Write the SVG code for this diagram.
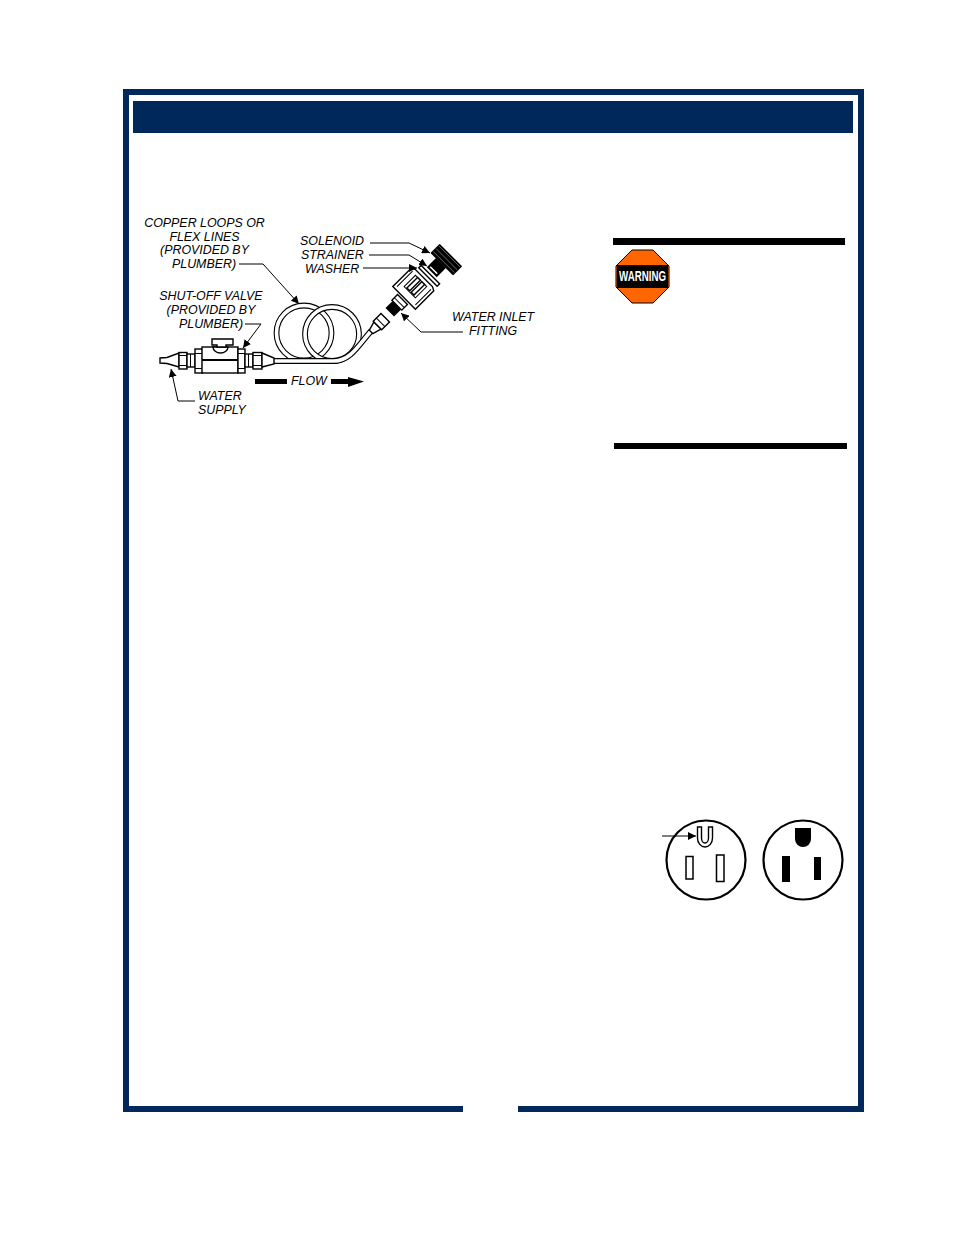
<svg xmlns="http://www.w3.org/2000/svg" width="954" height="1235" viewBox="0 0 954 1235">
<style>
.l{font-family:"Liberation Sans",Arial,sans-serif;font-style:italic;font-size:12.4px;fill:#000}
.m{text-anchor:middle}
.p{fill:#fff;stroke:#000;stroke-width:1.4}
.b{fill:#000;stroke:none}
.t{fill:none;stroke:#000;stroke-width:5.8}
.w{fill:none;stroke:#fff;stroke-width:3.6}
.ld{fill:none;stroke:#000;stroke-width:1;marker-end:url(#a)}
.o{fill:#fff;stroke:#000;stroke-width:2.2}
</style>
<defs>
<marker id="a" markerUnits="userSpaceOnUse" markerWidth="10" markerHeight="8" refX="8" refY="4" orient="auto"><path d="M0 0L8 4L0 8Z" fill="#000"/></marker>
</defs>
<rect width="954" height="1235" fill="#fff"/>
<g id="frame">
<path d="M463 1109H126V92H861V1109H518" fill="none" stroke="#00285a" stroke-width="6"/>
<rect x="133" y="101" width="720" height="32" fill="#00285a"/>
</g>
<g id="copper-loops">
<circle class="t" cx="304" cy="333" r="27.500"/><circle class="w" cx="304" cy="333" r="27.500"/>
<circle class="t" cx="332" cy="334" r="27"/><circle class="w" cx="332" cy="334" r="27"/>
<path class="t" d="M272 361H334C350 361 358 346 371 331"/>
<path class="w" d="M272 361H334C350 361 358 346 371 331"/>
</g>
<g id="shut-off-valve">
<path class="p" d="M160 358L167 357.500L179 353V367L167 363.500L160 363Z"/>
<rect class="p" x="179" y="352.500" width="8" height="16.500"/><path class="b" d="M179 355h8v1h-8zM179 365h8v1h-8z"/>
<rect class="p" x="187" y="354" width="8" height="13"/><rect class="b" x="190" y="354" width="1" height="13"/>
<rect class="p" x="195" y="349" width="7.500" height="24"/><path class="b" d="M195 353h7v1h-7zM195 368h7v1h-7z"/>
<rect x="202" y="347" width="36" height="26" fill="#fff" stroke="#000" stroke-width="1.400"/>
<rect class="b" x="202" y="359" width="36" height="2"/>
<path class="p" d="M213 347a7.500 6 0 0 0 15 0Z"/>
<path class="p" d="M212 339H233V345H226V347H217V345H212Z"/>
<rect class="p" x="238" y="349" width="7" height="24"/><path class="b" d="M238 353h7v1h-7zM238 368h7v1h-7z"/>
<rect class="p" x="245" y="354" width="8" height="13"/><rect class="b" x="248" y="354" width="1" height="13"/>
<rect class="p" x="253" y="352.500" width="9" height="16.500"/><path class="b" d="M253 355h9v1h-9zM253 365h9v1h-9z"/>
<path class="p" d="M262 353L274 358V364L262 367Z"/>
</g>
<g id="inlet-assembly">
<g transform="translate(381 322) rotate(-45)"><path class="p" d="M-14 -2.500L-5 -5V5L-14 2.500Z"/><rect class="p" x="-5" y="-6" width="11" height="12"/><rect class="b" x="-1" y="-6" width="1" height="12"/></g>
<g transform="translate(394 308) rotate(-45)"><rect class="b" x="-6" y="-6" width="10" height="12"/><rect class="p" x="4" y="-7" width="8" height="14"/><rect class="b" x="7" y="-7" width="1" height="14"/></g>
<g transform="translate(414 288) rotate(-45)">
<path class="p" d="M-14 -16H12L14 -12V12L12 16H-14Z"/>
<path fill="none" stroke="#000" d="M-11 -13H11M-11 13H11M-6 -8H10V8H-6Z"/>
<rect class="p" x="-5" y="-5" width="15" height="4"/><rect class="p" x="-5" y="1" width="15" height="4"/>
</g>
<g transform="translate(429 276) rotate(-45)"><rect class="p" x="-1.500" y="-13" width="3.500" height="26"/></g>
<g transform="translate(436 268) rotate(-45)"><rect class="b" x="-6" y="-7" width="13" height="14"/><rect x="-4" y="-5" width="1.500" height="10" fill="#fff"/></g>
<g transform="translate(446 260) rotate(-45)">
<rect class="b" x="-6" y="-16" width="13" height="32" rx="1"/>
<path stroke="#fff" stroke-width=".4" d="M-3 -15V15M1 -15V15M5 -15V15"/>
</g>
</g>
<g id="connectors">
<path class="ld" d="M239 264H263L299 304"/>
<path class="ld" d="M245 324H261L243 348"/>
<path class="ld" d="M195 401H178L171 369"/>
<path class="ld" d="M370 243H409L430 253"/>
<path class="ld" d="M369 255H409L427 266"/>
<path class="ld" d="M363 268H417"/>
<path class="ld" d="M463 332H421L401 313"/>
</g>
<g id="flow-arrow">
<rect class="b" x="255" y="379" width="32" height="5"/>
<path class="b" d="M331 379H348V377L364 381.500L348 387V384H331Z"/>
</g>
<g id="labels">
<text class="l m" x="204.500" y="226.500">COPPER LOOPS OR</text>
<text class="l m" x="204.500" y="240.500">FLEX LINES</text>
<text class="l m" x="204.500" y="254">(PROVIDED BY</text>
<text class="l m" x="204" y="268">PLUMBER)</text>
<text class="l m" x="211" y="300">SHUT-OFF VALVE</text>
<text class="l m" x="211" y="314">(PROVIDED BY</text>
<text class="l m" x="211" y="328">PLUMBER)</text>
<text class="l" x="300" y="245">SOLENOID</text>
<text class="l" x="301" y="259">STRAINER</text>
<text class="l" x="305" y="273">WASHER</text>
<text class="l" x="452" y="321">WATER INLET</text>
<text class="l" x="469" y="335">FITTING</text>
<text class="l" x="198" y="400">WATER</text>
<text class="l" x="198" y="414">SUPPLY</text>
<text class="l" x="291" y="385">FLOW</text>
</g>
<g id="warning">
<rect class="b" x="613" y="238" width="232" height="7"/>
<rect class="b" x="614" y="443" width="233" height="6"/>
<path d="M632 250H653L669 266V287L653 303H632L616 287V266Z" fill="#f60" stroke="#000" stroke-width="1"/>
<rect class="b" x="617" y="265" width="51" height="23"/>
<text x="642.500" y="281" text-anchor="middle" textLength="47" lengthAdjust="spacingAndGlyphs" style="font-family:'Liberation Sans',Arial,sans-serif;font-weight:bold;font-size:14px;fill:#fff">WARNING</text>
</g>
<g id="outlet-left">
<circle class="o" cx="706" cy="860" r="39.500"/>
<path d="M697.500 827H701.500V838A3.500 5 0 0 0 708.500 838V827H712.500V838A7.500 9 0 0 1 697.500 838Z" fill="#fff" stroke="#000" stroke-width="1.400"/>
<rect x="686" y="856.500" width="7" height="22.500" fill="#fff" stroke="#000" stroke-width="1.500"/>
<rect x="716.500" y="855" width="7.500" height="26.500" fill="#fff" stroke="#000" stroke-width="1.500"/>
<path d="M662 836H696" fill="none" stroke="#000" marker-end="url(#a)"/>
</g>
<g id="outlet-right">
<circle class="o" cx="803" cy="860" r="39.500"/>
<path class="b" d="M795 828H811V839A8 8 0 0 1 795 839Z"/>
<rect class="b" x="782" y="856" width="8" height="26"/>
<rect class="b" x="814" y="857" width="7" height="23"/>
</g>
</svg>
